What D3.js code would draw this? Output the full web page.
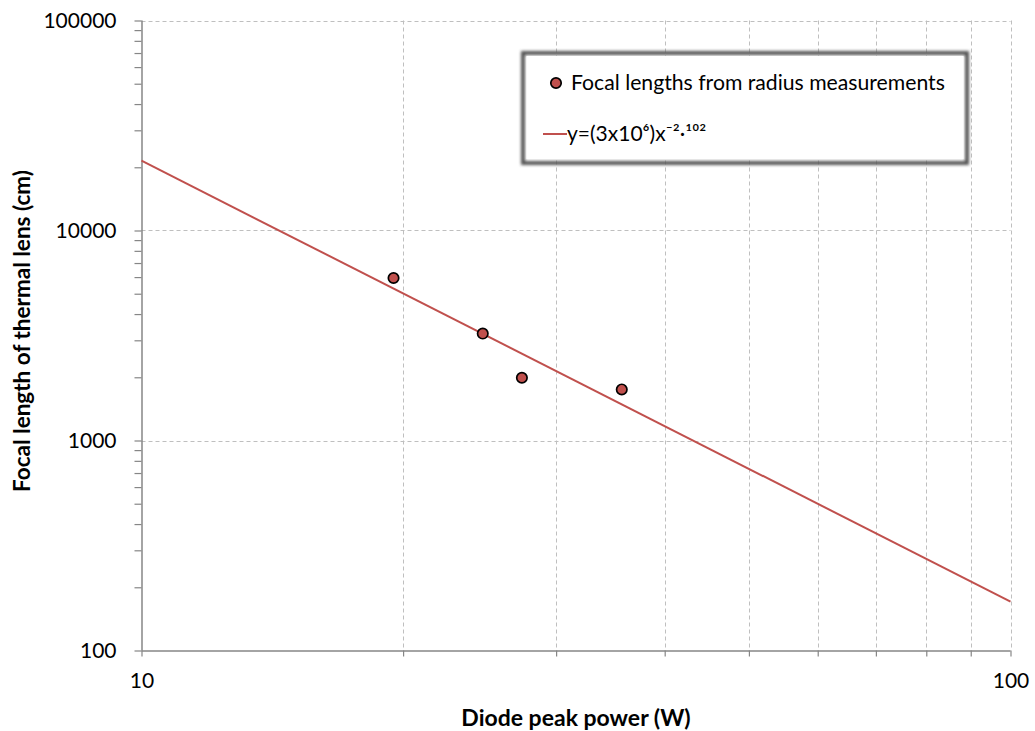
<!DOCTYPE html>
<html><head><meta charset="utf-8">
<script src="https://cdn.jsdelivr.net/npm/d3@7"></script>
<style>body{margin:0;background:#fff}svg{display:block}</style>
</head><body>
<script>
// data
const powerW = [19.5, 24.7, 27.4, 35.7];
const focalCm = [5940, 3230, 1990, 1750];
const fitX = [10, 100];
const fitY = [21500, 171];
const xTicks = [10, 100];
const yTicks = [100, 1000, 10000, 100000];
const seriesNames = ["Focal lengths from radius measurements", "y=(3x10\u2076)x\u207B\u00B2\u00B7\u00B9\u2070\u00B2"];

const W = 1035, H = 731;
const m = {l: 141.5, r: 1010.5, t: 20.5, b: 650.5};
const svg = d3.select("body").append("svg").attr("width", W).attr("height", H);
const font = "Lato, 'Open Sans', sans-serif";

const x = d3.scaleLog().domain([10, 100]).range([m.l, m.r]);
const y = d3.scaleLog().domain([100, 100000]).range([m.b, m.t]);

const xMinor = d3.range(20, 100, 10);
const yMinor = [];
[100, 1000, 10000].forEach(d => { for (let k = 2; k <= 9; k++) yMinor.push(d * k); });

const grid = svg.append("g").attr("stroke", "#bfbfbf").attr("stroke-width", 1).attr("stroke-dasharray", "4,3");
grid.selectAll(".gx").data(xMinor.concat([100])).enter().append("line")
  .attr("x1", d => Math.round(x(d)) + 0.5).attr("x2", d => Math.round(x(d)) + 0.5)
  .attr("y1", m.t).attr("y2", m.b);
grid.selectAll(".gy").data([1000, 10000, 100000]).enter().append("line")
  .attr("y1", d => Math.round(y(d)) + 0.5).attr("y2", d => Math.round(y(d)) + 0.5)
  .attr("x1", m.l).attr("x2", m.r);

// axes
const axisCol = "#868686";
const xAxis = svg.append("g").attr("transform", `translate(0,${m.b})`)
  .call(d3.axisBottom(x).tickValues(xTicks.concat(xMinor)).tickSize(6).tickFormat(d => xTicks.includes(d) ? d : ""));
xAxis.select(".domain").attr("stroke", axisCol).attr("stroke-width", 1.5).attr("d", `M${m.l},0.5H${m.r}`);
xAxis.selectAll(".tick line").attr("stroke", axisCol).attr("stroke-width", 1.2);
xAxis.selectAll(".tick text").attr("font-family", font).attr("font-size", 21).attr("fill", "#000").attr("dy", "1.35em");

const yAxis = svg.append("g").attr("transform", `translate(${m.l},0)`)
  .call(d3.axisLeft(y).tickValues(yTicks.concat(yMinor)).tickSize(7).tickFormat(d => yTicks.includes(d) ? d : ""));
yAxis.select(".domain").attr("stroke", axisCol).attr("stroke-width", 1.5).attr("d", `M0.5,${m.t}V${m.b}`);
yAxis.selectAll(".tick line").attr("stroke", axisCol).attr("stroke-width", 1.2);
yAxis.selectAll(".tick text").attr("font-family", font).attr("font-size", 21).attr("fill", "#000").attr("x", -25);

// fit line
const red = "#c0504d";
svg.append("path").datum(fitX.map((d, i) => [d, fitY[i]]))
  .attr("fill", "none").attr("stroke", red).attr("stroke-width", 2)
  .attr("d", d3.line().x(d => x(d[0])).y(d => y(d[1])));

// points
svg.selectAll(".pt").data(powerW.map((d, i) => [d, focalCm[i]])).enter().append("circle")
  .attr("cx", d => x(d[0])).attr("cy", d => y(d[1])).attr("r", 5.2)
  .attr("fill", red).attr("stroke", "#000").attr("stroke-width", 1.7);

// axis titles
svg.append("text").attr("x", (m.l + m.r) / 2).attr("y", 726).attr("text-anchor", "middle")
  .attr("font-family", font).attr("font-weight", "bold").attr("font-size", 23).text("Diode peak power (W)");
svg.append("text").attr("transform", "translate(30,331) rotate(-90)").attr("text-anchor", "middle")
  .attr("font-family", font).attr("font-weight", "bold").attr("font-size", 22.5).text("Focal length of thermal lens (cm)");

// legend
const defs = svg.append("defs");
const f = defs.append("filter").attr("id", "blur").attr("x", "-10%").attr("y", "-20%").attr("width", "120%").attr("height", "140%");
f.append("feGaussianBlur").attr("stdDeviation", 1.8);
const lg = svg.append("g");
lg.append("rect").attr("x", 523).attr("y", 53).attr("width", 444).attr("height", 110)
  .attr("fill", "none").attr("stroke", "#555").attr("stroke-width", 4).attr("filter", "url(#blur)");
lg.append("rect").attr("x", 526.5).attr("y", 56).attr("width", 437).attr("height", 103).attr("fill", "#fff");
lg.append("circle").attr("cx", 556).attr("cy", 83).attr("r", 5.2).attr("fill", red).attr("stroke", "#000").attr("stroke-width", 1.7);
lg.append("text").attr("x", 571).attr("y", 90).attr("font-family", font).attr("font-size", 21.2).text(seriesNames[0]);
lg.append("line").attr("x1", 543).attr("x2", 567).attr("y1", 134).attr("y2", 134).attr("stroke", red).attr("stroke-width", 2);
lg.append("text").attr("x", 567).attr("y", 141).attr("font-family", font).attr("font-size", 21).text(seriesNames[1]);
</script>
</body></html>
